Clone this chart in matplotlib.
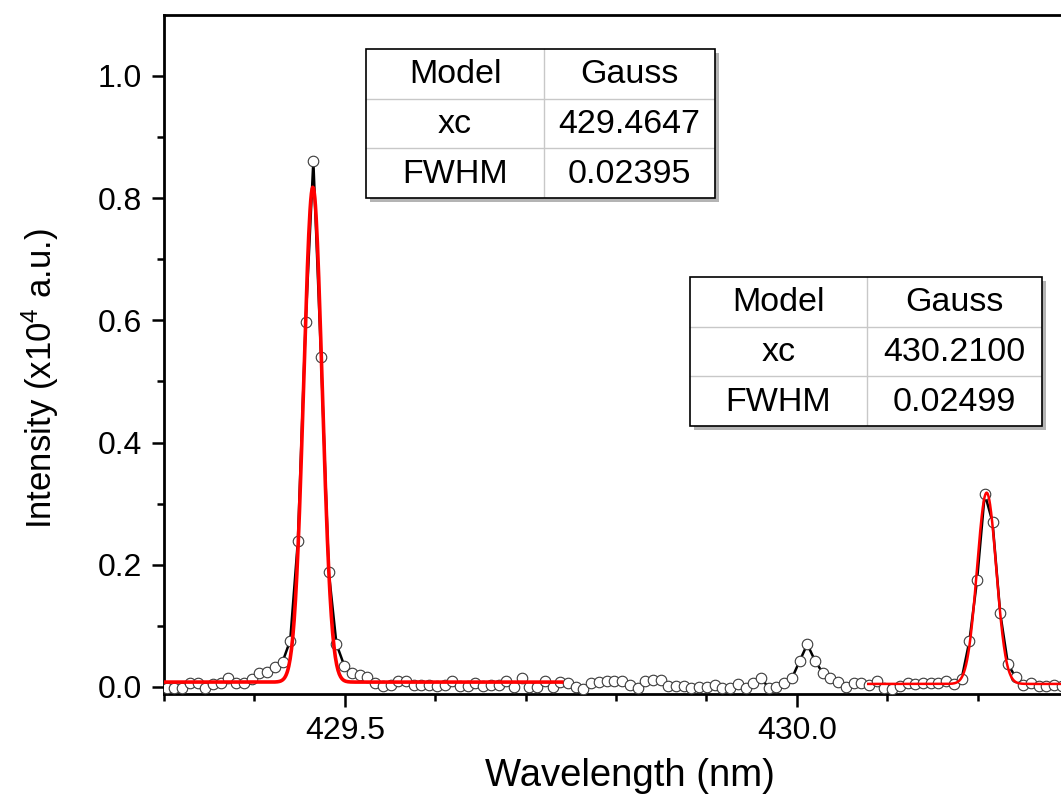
import numpy as np
import matplotlib
matplotlib.use("Agg")
import matplotlib.pyplot as plt
from matplotlib.patches import Rectangle
from matplotlib.ticker import MultipleLocator, FixedLocator

plt.rcParams['font.family'] = ['Liberation Sans', 'DejaVu Sans']
plt.rcParams['mathtext.fontset'] = 'custom'
plt.rcParams['mathtext.rm'] = 'Liberation Sans'
plt.rcParams['mathtext.it'] = 'Liberation Sans:italic'

# ---------------- data ----------------
wavelength = [
    429.3030, 429.3115, 429.3201, 429.3286, 429.3371, 429.3457, 429.3542, 429.3628, 429.3713, 429.3798,
    429.3884, 429.3969, 429.4054, 429.4140, 429.4225, 429.4311, 429.4396, 429.4481, 429.4567, 429.4652,
    429.4737, 429.4823, 429.4908, 429.4994, 429.5079, 429.5164, 429.5250, 429.5335, 429.5420, 429.5506,
    429.5591, 429.5677, 429.5762, 429.5847, 429.5933, 429.6018, 429.6103, 429.6189, 429.6274, 429.6359,
    429.6445, 429.6530, 429.6616, 429.6701, 429.6786, 429.6872, 429.6957, 429.7042, 429.7128, 429.7213,
    429.7299, 429.7384, 429.7469, 429.7555, 429.7640, 429.7725, 429.7811, 429.7896, 429.7982, 429.8067,
    429.8152, 429.8238, 429.8323, 429.8408, 429.8494, 429.8579, 429.8665, 429.8750, 429.8835, 429.8921,
    429.9006, 429.9091, 429.9177, 429.9262, 429.9348, 429.9433, 429.9518, 429.9604, 429.9689, 429.9774,
    429.9860, 429.9945, 430.0030, 430.0116, 430.0201, 430.0287, 430.0372, 430.0457, 430.0543, 430.0628,
    430.0713, 430.0799, 430.0884, 430.0970, 430.1055, 430.1140, 430.1226, 430.1311, 430.1396, 430.1482,
    430.1567, 430.1653, 430.1738, 430.1823, 430.1909, 430.1994, 430.2079, 430.2165, 430.2250, 430.2336,
    430.2421, 430.2506, 430.2592, 430.2677, 430.2762, 430.2848, 430.2933,
]
intensity = [
    -0.002, -0.002, -0.002, 0.006, 0.006, -0.001, 0.005, 0.006, 0.014, 0.007,
    0.006, 0.013, 0.023, 0.025, 0.032, 0.041, 0.076, 0.239, 0.597, 0.861,
    0.540, 0.188, 0.070, 0.035, 0.023, 0.019, 0.016, 0.007, 0.002, 0.003,
    0.010, 0.010, 0.003, 0.003, 0.003, 0.002, 0.003, 0.009, 0.002, 0.002,
    0.007, 0.002, 0.003, 0.003, 0.010, 0.000, 0.015, 0.000, 0.000, 0.010,
    0.000, 0.008, 0.006, 0.000, -0.003, 0.006, 0.008, 0.010, 0.009, 0.009,
    0.003, -0.002, 0.010, 0.011, 0.011, 0.002, 0.002, 0.002, -0.002, 0.000,
    0.000, 0.004, -0.002, -0.001, 0.005, -0.002, 0.006, 0.014, -0.001, 0.000,
    0.007, 0.014, 0.042, 0.070, 0.043, 0.023, 0.014, 0.008, 0.000, 0.007,
    0.007, 0.004, 0.010, -0.001, -0.003, 0.001, 0.007, 0.005, 0.006, 0.006,
    0.006, 0.009, 0.005, 0.013, 0.075, 0.175, 0.316, 0.270, 0.121, 0.037,
    0.016, 0.003, 0.007, 0.002, 0.001, 0.004, 0.002,
]

# Gaussian fit parameters (xc and FWHM as shown in the tables)
fit1_xc, fit1_fwhm, fit1_y0, fit1_amp = 429.4647, 0.02395, 0.008, 0.810
fit1_range = (429.300, 429.740)
fit2_xc, fit2_fwhm, fit2_y0, fit2_amp = 430.2100, 0.02499, 0.005, 0.313
fit2_range = (430.079, 430.320)

table1_rows = [("Model", "Gauss"), ("xc", "429.4647"), ("FWHM", "0.02395")]
table2_rows = [("Model", "Gauss"), ("xc", "430.2100"), ("FWHM", "0.02499")]

y_ticks = [0.0, 0.2, 0.4, 0.6, 0.8, 1.0]
x_ticks = [429.5, 430.0]

# ---------------- figure ----------------
W, H = 1061, 807
fig = plt.figure(figsize=(W / 100, H / 100), dpi=100)

ax_l, ax_r, ax_t, ax_b = 164, 1068, 15, 694
ax = fig.add_axes([ax_l / W, (H - ax_b) / H, (ax_r - ax_l) / W, (ax_b - ax_t) / H])

ax.plot(wavelength, intensity, color='black', lw=1.8, zorder=2)
ax.plot(wavelength, intensity, linestyle='none', marker='o', ms=7.6,
        mfc='white', mec='#3a3a3a', mew=0.8, zorder=3)


def gauss(x, xc, w, y0, a):
    return y0 + a * np.exp(-4 * np.log(2) * (x - xc) ** 2 / w ** 2)


xf1 = np.linspace(fit1_range[0], fit1_range[1], 600)
ax.plot(xf1, gauss(xf1, fit1_xc, fit1_fwhm, fit1_y0, fit1_amp), color='#ff0000', lw=2.6, zorder=4)
xf2 = np.linspace(fit2_range[0], fit2_range[1], 600)
ax.plot(xf2, gauss(xf2, fit2_xc, fit2_fwhm, fit2_y0, fit2_amp), color='#ff0000', lw=1.8, zorder=4)

ax.set_xlim(429.3, 430.3)
ax.set_ylim(-0.0115, 1.0998)

ax.xaxis.set_major_locator(FixedLocator(x_ticks))
ax.xaxis.set_minor_locator(MultipleLocator(0.1))
ax.yaxis.set_major_locator(FixedLocator(y_ticks))
ax.yaxis.set_minor_locator(MultipleLocator(0.1))
ax.set_xticklabels([f"{v:.1f}" for v in x_ticks])
ax.set_yticklabels([f"{v:.1f}" for v in y_ticks])

ax.tick_params(axis='both', which='major', direction='out', length=9, width=1.8,
               labelsize=23, pad=7)
ax.tick_params(axis='both', which='minor', direction='out', length=5, width=1.8)
ax.tick_params(top=False, right=False, which='both')

for s in ['left', 'bottom', 'top']:
    ax.spines[s].set_linewidth(2.0)
ax.spines['right'].set_visible(False)

ax.set_xlabel('Wavelength (nm)', fontsize=27.5)
ax.set_ylabel(r'Intensity (x10$^{\mathregular{4}}$ a.u.)', fontsize=25)
# label positions in pixels
ax.xaxis.set_label_coords((630 - ax_l) / (ax_r - ax_l), (ax_b - 776) / (ax_b - ax_t))
ax.yaxis.set_label_coords((40 - ax_l) / (ax_r - ax_l), (ax_b - 379) / (ax_b - ax_t))
ax.xaxis.label.set_va('center')
ax.yaxis.label.set_va('center')

# ---------------- tables (overlay in pixel coords) ----------------
ov = fig.add_axes([0, 0, 1, 1], zorder=10)
ov.set_xlim(0, W)
ov.set_ylim(H, 0)
ov.axis('off')
ov.patch.set_alpha(0)


def draw_table(rows, left, top, col_w, row_h):
    n = len(rows)
    width = sum(col_w)
    height = n * row_h
    # shadow
    ov.add_patch(Rectangle((left + 4, top + 4), width, height, facecolor='#b4b4b4',
                           edgecolor='none', zorder=1))
    ov.add_patch(Rectangle((left, top), width, height, facecolor='white',
                           edgecolor='none', zorder=2))
    # inner lines
    for i in range(1, n):
        ov.plot([left, left + width], [top + i * row_h] * 2, color='#c8c8c8', lw=1.0, zorder=3)
    ov.plot([left + col_w[0]] * 2, [top, top + height], color='#c8c8c8', lw=1.0, zorder=3)
    ov.add_patch(Rectangle((left, top), width, height, facecolor='none',
                           edgecolor='black', lw=1.2, zorder=4))
    for i, (a, b) in enumerate(rows):
        yc = top + (i + 0.5) * row_h + 1
        ov.text(left + col_w[0] / 2, yc, a, ha='center', va='center', fontsize=24.5, zorder=5)
        ov.text(left + col_w[0] + col_w[1] / 2, yc, b, ha='center', va='center',
                fontsize=24.5, zorder=5)


draw_table(table1_rows, 366, 49, (178, 171), 49.7)
draw_table(table2_rows, 690, 277, (177, 175), 49.7)

fig.savefig('out.png', dpi=100)
